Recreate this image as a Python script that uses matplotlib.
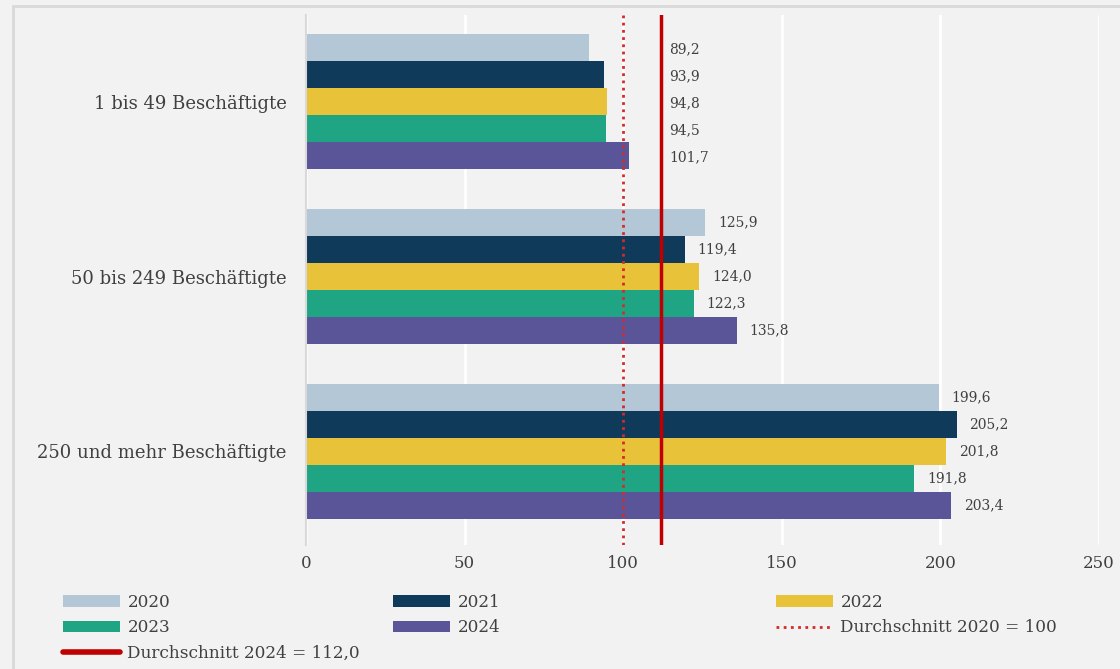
import matplotlib
matplotlib.use("Agg")
import matplotlib.pyplot as plt
from matplotlib.patches import Patch, Rectangle
from matplotlib.lines import Line2D

# data
categories = ["1 bis 49 Beschäftigte", "50 bis 249 Beschäftigte", "250 und mehr Beschäftigte"]
years = ["2020", "2021", "2022", "2023", "2024"]
values = {
    "2020": [89.2, 125.9, 199.6],
    "2021": [93.9, 119.4, 205.2],
    "2022": [94.8, 124.0, 201.8],
    "2023": [94.5, 122.3, 191.8],
    "2024": [101.7, 135.8, 203.4],
}
avg_2020 = 100
avg_2024 = 112.0
x_ticks = [0, 50, 100, 150, 200, 250]

colors = ["#b4c7d6", "#0f3a5a", "#e8c238", "#1fa583", "#5a5499"]
red = "#c00000"
dot_red = "#d42a2a"
text_col = "#404040"
bg = "#f2f2f2"

plt.rcParams["font.family"] = ["DejaVu Serif"]

fig = plt.figure(figsize=(11.2, 6.69), dpi=100, facecolor=bg)
ax = fig.add_axes([0.2732, 0.1853, 0.7081, 0.7923])
ax.set_facecolor(bg)

# outer frame
fig.patches.append(Rectangle((13 / 1120, -0.05), 1.2, 1 - 6 / 669 + 0.05,
                             transform=fig.transFigure, fill=False,
                             edgecolor="#d9d9d9", linewidth=2, zorder=0))

h = 0.155
for j, yr in enumerate(years):
    for i, v in enumerate(values[yr]):
        y = i + (j - 2) * h
        ax.barh(y, v, height=h, color=colors[j], zorder=2)
        if v < avg_2024:
            ax.annotate(f"{v:.1f}".replace(".", ","), (avg_2024, y), xytext=(6, -1),
                        textcoords="offset points", ha="left", va="center",
                        fontsize=10, color=text_col)
        else:
            ax.annotate(f"{v:.1f}".replace(".", ","), (v, y), xytext=(9, 0),
                        textcoords="offset points", ha="left", va="center",
                        fontsize=10, color=text_col)

ax.axvline(avg_2020, color=dot_red, linewidth=2, linestyle=(0, (1, 1.6)), zorder=3)
ax.axvline(avg_2024, color=red, linewidth=2.5, zorder=3)

ax.set_xlim(0, 250)
ax.set_ylim(2.536, -0.496)
ax.set_xticks(x_ticks)
ax.set_xticklabels([str(t) for t in x_ticks])
ax.set_yticks(range(len(categories)))
ax.set_yticklabels(categories)
ax.tick_params(axis="x", length=0, pad=7, labelsize=12, labelcolor=text_col)
ax.tick_params(axis="y", length=0, pad=14, labelsize=13, labelcolor=text_col)
ax.grid(axis="x", color="white", linewidth=2, zorder=1)
ax.set_axisbelow(True)
for s in ["top", "right", "bottom"]:
    ax.spines[s].set_visible(False)
ax.spines["left"].set_color("#d9d9d9")
ax.spines["left"].set_linewidth(1.5)

# legend in three columns
def patch(c):
    return Patch(facecolor=c, edgecolor="none")

cols = [
    ([patch(colors[0]), patch(colors[3]),
      Line2D([], [], color=red, linewidth=4, solid_capstyle="round")],
     ["2020", "2023", "Durchschnitt 2024 = 112,0"], 63),
    ([patch(colors[1]), patch(colors[4])], ["2021", "2024"], 393),
    ([patch(colors[2]), Line2D([], [], color=dot_red, linewidth=2, linestyle=(0, (1, 1.6)))],
     ["2022", "Durchschnitt 2020 = 100"], 776),
]
for handles, labels, xpix in cols:
    leg = fig.legend(handles, labels, loc="upper left",
                     bbox_to_anchor=(xpix / 1120, 1 - 594 / 669),
                     frameon=False, fontsize=12.2, handlelength=3.35,
                     handleheight=0.7, handletextpad=0.45, labelspacing=0.5,
                     borderpad=0, borderaxespad=0)
    for t in leg.get_texts():
        t.set_color(text_col)

fig.savefig("out.png", dpi=100, facecolor=bg)
